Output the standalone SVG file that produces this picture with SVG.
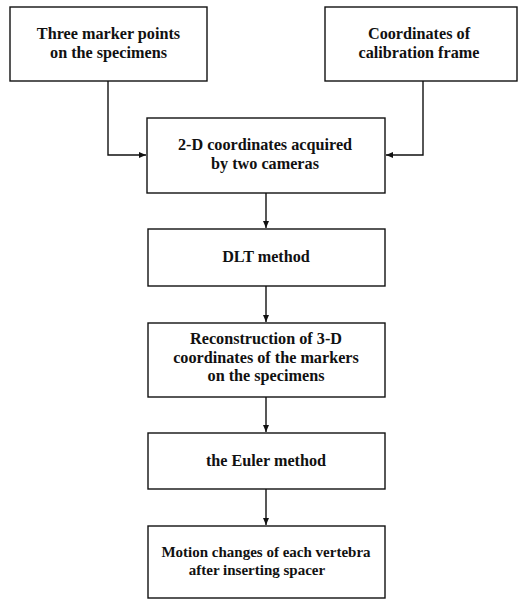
<svg xmlns="http://www.w3.org/2000/svg" width="518" height="601" viewBox="0 0 518 601">
<style>
.box{fill:#fff;stroke:#111;stroke-width:1.4}
.lbl{font-family:"Liberation Serif","Times New Roman",serif;font-weight:bold;font-size:16.2px;fill:#111;text-anchor:middle}
.sm{font-size:15px}
.con{fill:none;stroke:#111;stroke-width:1.4}
</style>
<defs>
<marker id="ah" markerUnits="userSpaceOnUse" markerWidth="8" markerHeight="8" viewBox="0 0 8 8" refX="7" refY="4" orient="auto">
<path d="M0,1 L7,4 L0,7 Z" fill="#111"/>
</marker>
</defs>
<rect width="518" height="601" fill="#fff"/>
<g id="connectors">
<polyline class="con" points="108,81 108,155 146,155" marker-end="url(#ah)"/>
<polyline class="con" points="423,81 423,155 386,155" marker-end="url(#ah)"/>
<line class="con" x1="266" y1="193" x2="266" y2="228" marker-end="url(#ah)"/>
<line class="con" x1="266" y1="286" x2="266" y2="322" marker-end="url(#ah)"/>
<line class="con" x1="266" y1="397" x2="266" y2="432" marker-end="url(#ah)"/>
<line class="con" x1="266" y1="489" x2="266" y2="525" marker-end="url(#ah)"/>
</g>
<g id="n1">
<rect class="box" x="10" y="7" width="197" height="74"/>
<text class="lbl" x="108.5" y="39">Three marker points</text>
<text class="lbl" x="108.5" y="57.5">on the specimens</text>
</g>
<g id="n2">
<rect class="box" x="325" y="7" width="192" height="74"/>
<text class="lbl" x="419" y="39">Coordinates of</text>
<text class="lbl" x="419" y="57.5">calibration frame</text>
</g>
<g id="n3">
<rect class="box" x="147" y="118" width="238" height="75"/>
<text class="lbl" x="265" y="150">2-D coordinates acquired</text>
<text class="lbl" x="265" y="168.5">by two cameras</text>
</g>
<g id="n4">
<rect class="box" x="148" y="229" width="237" height="57"/>
<text class="lbl" x="266" y="262">DLT method</text>
</g>
<g id="n5">
<rect class="box" x="148" y="323" width="237" height="74"/>
<text class="lbl" x="266" y="344">Reconstruction of 3-D</text>
<text class="lbl" x="266" y="362.5">coordinates of the markers</text>
<text class="lbl" x="266" y="381">on the specimens</text>
</g>
<g id="n6">
<rect class="box" x="148" y="433" width="237" height="56"/>
<text class="lbl" x="266" y="466">the Euler method</text>
</g>
<g id="n7">
<rect class="box" x="148" y="526" width="237" height="72"/>
<text class="lbl sm" x="266" y="557">Motion changes of each vertebra</text>
<text class="lbl sm" x="257" y="574.5">after inserting spacer</text>
</g>
</svg>
